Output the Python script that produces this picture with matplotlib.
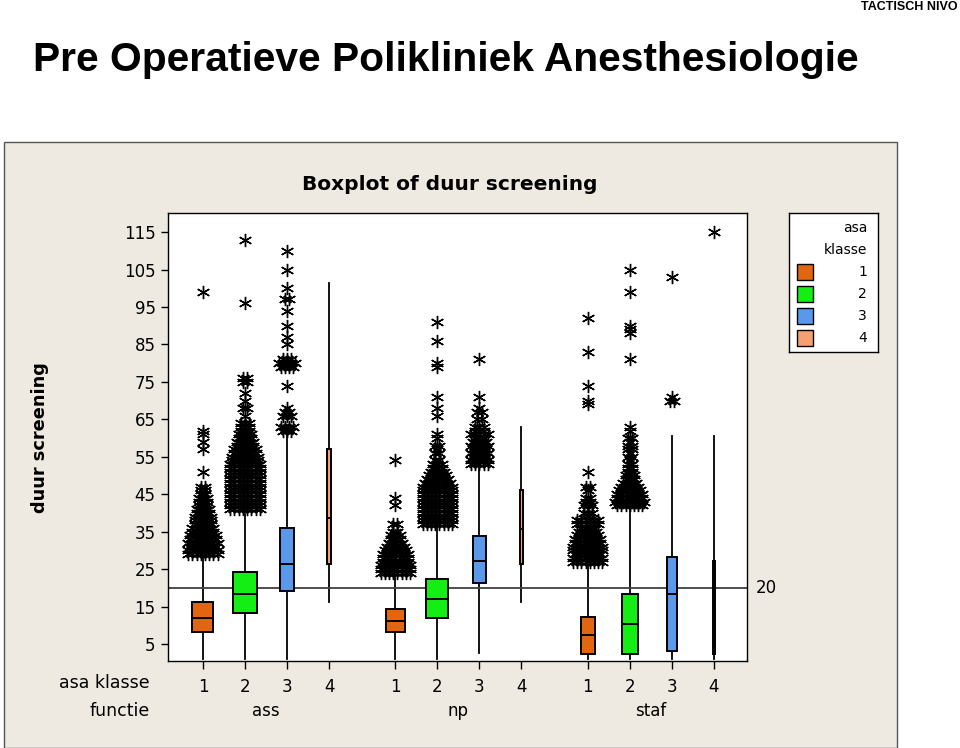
import matplotlib
matplotlib.use('Agg')
import matplotlib.pyplot as plt
from matplotlib.patches import Rectangle
from matplotlib.transforms import blended_transform_factory
import numpy as np

# ============================================================================
# Data, duur screening in minutes
# ============================================================================
functie = ['ass', 'np', 'staf']
asa_klasse = ['1', '2', '3', '4']
asa_colors = ['#E2650F', '#14EE14', '#5A98EC', '#F5A070']

# box statistics per functie x asa klasse (ass 1..4, np 1..4, staf 1..4)
q1 = [8.3, 13.4, 19.2, 26.4, 8.2, 12.0, 21.2, 26.3, 2.3, 2.3, 3.2, 2.3]
med = [12.0, 18.4, 26.4, 38.6, 11.2, 17.1, 27.2, 35.6, 7.4, 10.3, 18.3, 15.0]
q3 = [16.3, 24.1, 36.0, 57.0, 14.3, 22.3, 33.8, 46.1, 12.1, 18.4, 28.3, 27.2]
whis_lo = [1, 1, 1, 16.3, 1, 1, 2.6, 16.3, 1, 1, 1, 1]
whis_hi = [28.0, 39.7, 60.8, 101.4, 23.0, 36.8, 52.8, 62.9, 26.5, 41.7, 60.6, 60.6]

# outliers: value and number of tied observations
out_vals = [
    [29, 30, 31, 32, 33, 34, 35, 36, 37, 38, 39, 40, 41, 42, 43, 44, 45, 46, 47, 51, 57, 59, 61, 62, 99],
    [41, 42, 43, 44, 45, 46, 47, 48, 49, 50, 51, 52, 53, 54, 55, 56, 57, 58, 59, 60, 61, 62, 63, 64,
     66, 68, 70, 72, 75, 76, 96, 113],
    [62, 63, 66, 67, 68, 74, 79, 80, 81, 85, 87, 90, 94, 97, 100, 105, 110],
    [],
    [24, 25, 26, 27, 28, 29, 30, 31, 32, 33, 34, 35, 37, 42, 44, 54],
    [37, 38, 39, 40, 41, 42, 43, 44, 45, 46, 47, 48, 49, 50, 51, 52, 53, 54, 56, 57, 58, 60, 61,
     66, 68, 71, 79, 80, 86, 91],
    [53, 54, 55, 56, 57, 58, 59, 60, 61, 62, 63, 65, 67, 68, 71, 81],
    [],
    [27, 28, 29, 30, 31, 32, 33, 34, 35, 36, 37, 38, 40, 42, 43, 44, 46, 47, 51, 69, 70, 74, 83, 92],
    [42, 43, 44, 45, 46, 47, 48, 49, 50, 51, 52, 53, 54, 55, 56, 57, 58, 59, 60, 62, 63,
     81, 88, 89, 90, 99, 105],
    [70, 71, 103],
    [115],
]
out_counts = [
    [8, 8, 7, 8, 7, 7, 6, 6, 5, 5, 5, 4, 4, 3, 3, 3, 2, 2, 2, 1, 1, 1, 1, 1, 1],
    [8, 8, 8, 8, 8, 8, 8, 8, 8, 8, 8, 8, 8, 7, 7, 6, 6, 5, 5, 4, 4, 3, 3, 3,
     1, 2, 1, 1, 2, 2, 1, 1],
    [3, 4, 3, 2, 1, 1, 4, 5, 3, 1, 1, 1, 1, 2, 1, 1, 1],
    [],
    [8, 8, 8, 7, 7, 7, 6, 5, 4, 3, 3, 2, 2, 1, 1, 1],
    [8, 8, 8, 8, 8, 8, 8, 8, 8, 8, 8, 7, 6, 5, 4, 3, 3, 2, 2, 1, 2, 1, 1,
     1, 1, 1, 1, 1, 1, 1],
    [5, 5, 4, 5, 4, 5, 4, 3, 5, 3, 3, 2, 2, 1, 1, 1],
    [],
    [8, 8, 7, 8, 8, 7, 7, 6, 5, 4, 6, 6, 3, 3, 2, 2, 1, 2, 1, 1, 1, 1, 1, 1],
    [7, 8, 7, 7, 6, 5, 4, 3, 3, 2, 2, 2, 1, 2, 1, 2, 2, 1, 2, 1, 1,
     1, 1, 1, 1, 1, 1],
    [2, 1, 1],
    [1],
]

ref_value = 20

# ============================================================================
# Layout / style
# ============================================================================
plt.rcParams['font.family'] = ['DejaVu Sans']
box_w = [0.50, 0.55, 0.31, 0.10, 0.45, 0.52, 0.31, 0.08, 0.33, 0.38, 0.24, 0.05]
group_step = 4.58
positions = [g * group_step + k for g in range(len(functie)) for k in range(len(asa_klasse))]
dx = 0.10  # horizontal step between tied outliers

W, H = 960, 748
fig = plt.figure(figsize=(W / 100, H / 100), dpi=100, facecolor='white')

def fx(px):
    return px / W

def fy(py):
    return 1 - py / H

# beige Minitab panel (behind the axes)
panel = Rectangle((fx(4), 0), fx(893), fy(142), transform=fig.transFigure,
                  facecolor='#EEEAE1', edgecolor='#555555', lw=1.0, zorder=-5)
fig.patches.append(panel)

fig.text(fx(958), fy(7), 'TACTISCH NIVO', ha='right', va='center', fontsize=9,
         fontweight='bold', family=['Liberation Sans Narrow', 'Liberation Sans'])
fig.text(fx(33), fy(60), 'Pre Operatieve Polikliniek Anesthesiologie', ha='left', va='center',
         fontsize=29.3, fontweight='bold', family=['Liberation Sans Narrow', 'Liberation Sans'])

fig.text(fx(450), fy(185), 'Boxplot of duur screening', ha='center', va='center',
         fontsize=14.5, fontweight='bold')
fig.text(fx(40), fy(438), 'duur screening', ha='center', va='center', rotation=90,
         fontsize=12.8, fontweight='bold')

ax = fig.add_axes([fx(168), fy(661), fx(747 - 168), (661 - 213) / H])
ax.set_facecolor('white')
ax.set_zorder(2)

stats = []
for i in range(len(positions)):
    stats.append(dict(med=med[i], q1=q1[i], q3=q3[i], whislo=whis_lo[i], whishi=whis_hi[i], fliers=[]))

bp = ax.bxp(stats, positions=positions, widths=box_w, patch_artist=True, showcaps=False,
            showfliers=False,
            boxprops=dict(edgecolor='black', linewidth=1.4),
            medianprops=dict(color='black', linewidth=1.4),
            whiskerprops=dict(color='black', linewidth=1.3))
for i, patch in enumerate(bp['boxes']):
    patch.set_facecolor(asa_colors[i % len(asa_klasse)])
    patch.set_zorder(3)
for m in bp['medians']:
    m.set_zorder(4)

for i, pos in enumerate(positions):
    for v, c in zip(out_vals[i], out_counts[i]):
        xs = pos + (np.arange(c) - (c - 1) / 2) * dx
        ax.plot(xs, [v] * c, ls='none', marker=(6, 2, 0), ms=9.5, mew=1.0, color='black', zorder=5)

ax.axhline(ref_value, color='#404040', lw=1.3, zorder=2)
trans = blended_transform_factory(ax.transAxes, ax.transData)
ax.text(1.034, ref_value, str(ref_value), transform=trans, ha='center', va='center', fontsize=12)

ax.set_ylim(0.45, 120.1)
ax.set_xlim(-0.833, 12.95)
ax.set_yticks(np.arange(5, 116, 10))
ax.tick_params(axis='y', direction='out', length=5, width=1, labelsize=12, pad=4)
ax.set_xticks(positions)
ax.set_xticklabels(asa_klasse * len(functie))
ax.tick_params(axis='x', direction='out', length=6, width=1, labelsize=12, pad=6)
for sp in ax.spines.values():
    sp.set_linewidth(1.0)
    sp.set_color('black')

# category rows under the axis
trans_x = blended_transform_factory(ax.transData, fig.transFigure)
for g, name in enumerate(functie):
    center = np.mean(positions[g * 4:(g + 1) * 4])
    ax.text(center, fy(711), name, transform=trans_x, ha='center', va='center', fontsize=12)
fig.text(fx(150), fy(683), 'asa klasse', ha='right', va='center', fontsize=12.5)
fig.text(fx(150), fy(711), 'functie', ha='right', va='center', fontsize=12.5)

# legend box
lax = fig.add_axes([fx(789), fy(352), fx(89), (352 - 213) / H])
lax.set_zorder(2)
lax.set_xlim(0, 89)
lax.set_ylim(139, 0)
lax.set_xticks([])
lax.set_yticks([])
for sp in lax.spines.values():
    sp.set_linewidth(1.0)
lax.text(78, 15, 'asa', ha='right', va='center', fontsize=10)
lax.text(78, 37, 'klasse', ha='right', va='center', fontsize=10)
for k, (lab, col) in enumerate(zip(asa_klasse, asa_colors)):
    yc = 59 + 22 * k
    lax.add_patch(Rectangle((8, yc - 8), 16, 16, facecolor=col, edgecolor='black', lw=1.0))
    lax.text(78, yc, lab, ha='right', va='center', fontsize=10)

fig.savefig('out.png', dpi=100)
plt.close(fig)
